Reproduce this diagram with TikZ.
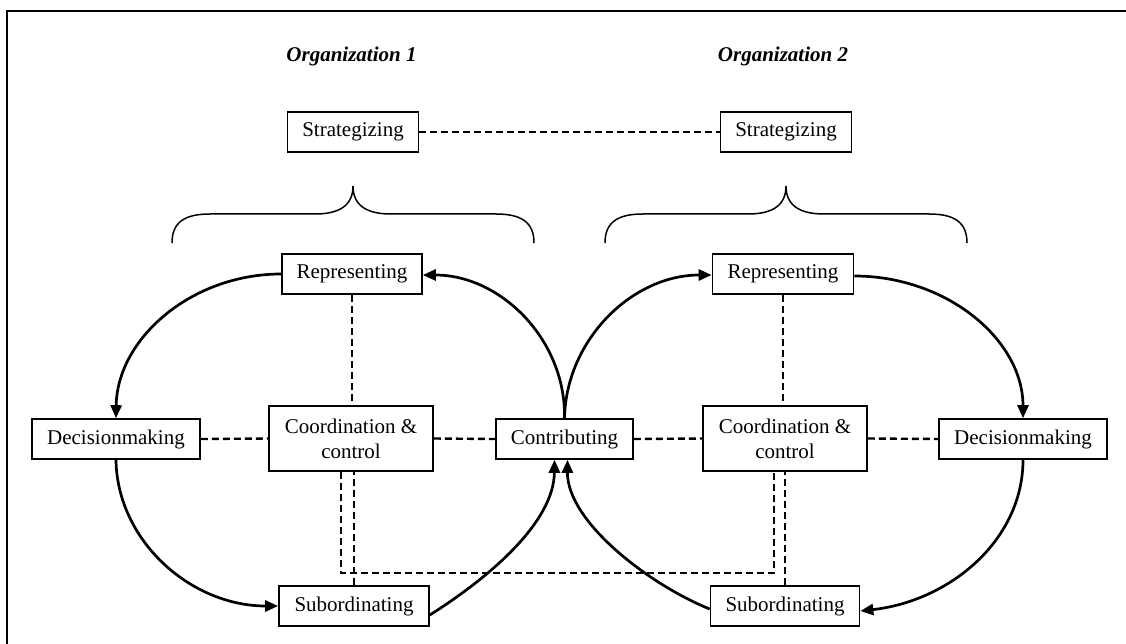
\documentclass[tikz,border=0pt]{standalone}
\usepackage{fontspec}
\setmainfont{Liberation Serif}
\usetikzlibrary{arrows.meta}
\begin{document}
\begin{tikzpicture}[x=1pt,y=-1pt,
  every node/.style={font=\fontsize{21}{25}\selectfont},
  box/.style={draw, line width=1.6pt, inner xsep=0pt, inner ysep=0pt,
              minimum height=40pt, align=center},
  orglabel/.style={font=\fontsize{21}{25}\selectfont\bfseries\itshape},
  link/.style={line width=2.4pt, dash pattern=on 7pt off 4pt},
  flow/.style={line width=2.7pt, -{Triangle[length=13pt,width=11pt]}},
  bracepath/.style={line width=1.5pt},
  orgbrace/.pic={
    \draw[bracepath] (-181,57) .. controls (-181,36) and (-168,28) .. (-143,28)
      -- (-38,28) .. controls (-13,28) and (0,19) .. (0,0)
      .. controls (0,19) and (13,28) .. (38,28)
      -- (143,28) .. controls (168,28) and (181,36) .. (181,57);
  }]
\useasboundingbox (0,0) rectangle (1126,644);

% outer frame
\draw[line width=1.6pt] (1126,11) -- (7,11) -- (7,644);

% organisation headings
\node[orglabel] (org1) at (351.5,56) {Organization 1};
\node[orglabel] (org2) at (783,56) {Organization 2};

% boxes
\node[box, minimum width=131pt] (strat1) at (353,132) {Strategizing};
\node[box, minimum width=131pt] (strat2) at (786,132) {Strategizing};
\node[box, minimum width=140pt] (rep1) at (352,274) {Representing};
\node[box, minimum width=141pt] (rep2) at (783,274) {Representing};
\node[box, minimum width=168pt] (dec1) at (116,439) {Decisionmaking};
\node[box, minimum width=168pt] (dec2) at (1023,439) {Decisionmaking};
\node[box, minimum width=164pt, minimum height=65pt] (coord1) at (351,438.5) {Coordination \&\\control};
\node[box, minimum width=164pt, minimum height=65pt] (coord2) at (785,438.5) {Coordination \&\\control};
\node[box, minimum width=137pt] (contrib) at (564.5,439) {Contributing};
\node[box, minimum width=150pt] (sub1) at (354,606) {Subordinating};
\node[box, minimum width=149pt] (sub2) at (785,606) {Subordinating};

% braces under the strategizing boxes
\pic at (353,186) {orgbrace};
\pic at (786,186) {orgbrace};

% dashed links
\draw[link] (strat1.east) -- (strat2.west);
\draw[link] (dec1.east) -- (coord1.west);
\draw[link] (coord1.east) -- (contrib.west);
\draw[link] (contrib.east) -- (coord2.west);
\draw[link] (coord2.east) -- (dec2.west);
\draw[link] (rep1.south) -- (rep1.south |- coord1.north);
\draw[link] (rep2.south) -- (rep2.south |- coord2.north);
\draw[link] (sub1.north) -- (sub1.north |- coord1.south);
\draw[link] (sub2.north) -- (sub2.north |- coord2.south);
\coordinate (loopL) at (341,573);
\coordinate (loopR) at (774,573);
\draw[link] (loopL |- coord1.south) -- (loopL) -- (loopR) -- (loopR |- coord2.south);

% cycle of organisation 1
\draw[flow] (rep1.west) .. controls (191,274) and (117,339) .. (dec1.north);
\draw[flow] (dec1.south) .. controls (117,540) and (190,606) .. (sub1.west);
\draw[flow] ([yshift=-9pt]sub1.east) .. controls (490,577) and (554,522) .. ([xshift=-10pt]contrib.south);
\draw[flow] (contrib.north) .. controls (566,340) and (501,275) .. ([yshift=-1pt]rep1.east);

% cycle of organisation 2
\draw[flow] (contrib.north) .. controls (566,340) and (632,275) .. ([yshift=-1pt]rep2.west);
\draw[flow] ([yshift=-2pt]rep2.east) .. controls (947,276) and (1023,340) .. (dec2.north);
\draw[flow] (dec2.south) .. controls (1023,540) and (950,601) .. ([yshift=-5pt]sub2.east);
\draw[flow] ([yshift=-3pt]sub2.west) .. controls (650,585) and (567,522) .. ([xshift=3pt]contrib.south);
\end{tikzpicture}
\end{document}
